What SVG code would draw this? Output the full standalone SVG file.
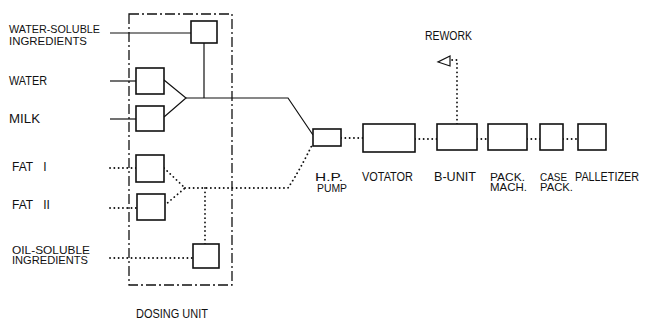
<svg xmlns="http://www.w3.org/2000/svg" width="649" height="320" viewBox="0 0 649 320">
<defs>
<style>
.bg{fill:#fff}
.box{fill:#fff;stroke:#111;stroke-width:1.6}
.ln{fill:none;stroke:#111;stroke-width:1.2}
.dot{fill:none;stroke:#111;stroke-width:1.8;stroke-dasharray:0.1 4.2;stroke-linecap:round}
.frame{fill:none;stroke:#111;stroke-width:1.3;stroke-dasharray:10 3 2 3}
text{font-family:"Liberation Sans",Arial,sans-serif;font-size:12px;fill:#111}
.sm{font-size:11px}
</style>
</defs>
<rect class="bg" x="0" y="0" width="649" height="320"/>
<g id="dosing-unit">
<rect class="frame" x="129" y="14" width="103" height="271"/>
<text x="136" y="318" textLength="72" lengthAdjust="spacingAndGlyphs">DOSING UNIT</text>
</g>
<g id="connectors">
<path class="ln" d="M110,33 H191"/>
<path class="ln" d="M204,43 V98"/>
<path class="ln" d="M110,81 H136"/>
<path class="ln" d="M110,119 H136"/>
<path class="ln" d="M164,80 L186,98 L164,117"/>
<path class="ln" d="M186,98 H288 L313,135"/>
<path class="dot" d="M110,168 H136"/>
<path class="dot" d="M110,208 H137"/>
<path class="dot" d="M164,168 L185,188 L165,205"/>
<path class="dot" d="M185,188 H288 Q300,170 313,143"/>
<path class="dot" d="M205,188 V244"/>
<path class="dot" d="M110,258 H193"/>
<path class="dot" d="M341,138 H363"/>
<path class="dot" d="M415,139 H437"/>
<path class="dot" d="M477,139 H488"/>
<path class="dot" d="M527,139 H540"/>
<path class="dot" d="M563,139 H578"/>
<path class="dot" d="M457,124 V60 H452"/>
<path class="ln" d="M450,56 L438,62 L450,66 Z" stroke-width="0.9"/>
</g>
<g id="water-soluble">
<text class="sm" x="9" y="33" textLength="91" lengthAdjust="spacingAndGlyphs">WATER-SOLUBLE</text>
<text class="sm" x="9" y="45" textLength="78" lengthAdjust="spacingAndGlyphs">INGREDIENTS</text>
<rect class="box" x="191" y="21" width="26" height="22"/>
</g>
<g id="water">
<text x="9" y="85" textLength="38" lengthAdjust="spacingAndGlyphs">WATER</text>
<rect class="box" x="136" y="68" width="28" height="26"/>
</g>
<g id="milk">
<text x="9" y="123" textLength="31" lengthAdjust="spacingAndGlyphs">MILK</text>
<rect class="box" x="136" y="106" width="28" height="25"/>
</g>
<g id="fat1">
<text x="12" y="171" word-spacing="7">FAT I</text>
<rect class="box" x="136" y="155" width="28" height="27"/>
</g>
<g id="fat2">
<text x="12" y="209" word-spacing="7">FAT II</text>
<rect class="box" x="137" y="194" width="28" height="26"/>
</g>
<g id="oil-soluble">
<text class="sm" x="12" y="253.5" textLength="78" lengthAdjust="spacingAndGlyphs">OIL-SOLUBLE</text>
<text class="sm" x="12" y="264" textLength="76" lengthAdjust="spacingAndGlyphs">INGREDIENTS</text>
<rect class="box" x="193" y="244" width="26" height="24"/>
</g>
<g id="hp-pump">
<rect class="box" x="313" y="129" width="28" height="17"/>
<text class="sm" x="315" y="181" textLength="28" lengthAdjust="spacingAndGlyphs">H.P.</text>
<text class="sm" x="317" y="192" textLength="30" lengthAdjust="spacingAndGlyphs">PUMP</text>
</g>
<g id="votator">
<rect class="box" x="363" y="124" width="52" height="28"/>
<text x="362" y="181" textLength="51" lengthAdjust="spacingAndGlyphs">VOTATOR</text>
</g>
<g id="b-unit">
<rect class="box" x="437" y="124" width="40" height="26"/>
<text x="434" y="181" textLength="42" lengthAdjust="spacingAndGlyphs">B-UNIT</text>
</g>
<g id="rework">
<text x="425" y="40" textLength="47" lengthAdjust="spacingAndGlyphs">REWORK</text>
</g>
<g id="pack-mach">
<rect class="box" x="488" y="124" width="39" height="26"/>
<text class="sm" x="490" y="180.5" textLength="35" lengthAdjust="spacingAndGlyphs">PACK.</text>
<text class="sm" x="490" y="191" textLength="37" lengthAdjust="spacingAndGlyphs">MACH.</text>
</g>
<g id="case-pack">
<rect class="box" x="540" y="124" width="23" height="26"/>
<text class="sm" x="540" y="180.5" textLength="27" lengthAdjust="spacingAndGlyphs">CASE</text>
<text class="sm" x="540" y="191" textLength="33" lengthAdjust="spacingAndGlyphs">PACK.</text>
</g>
<g id="palletizer">
<rect class="box" x="578" y="124" width="28" height="26"/>
<text x="575" y="181" textLength="64" lengthAdjust="spacingAndGlyphs">PALLETIZER</text>
</g>
</svg>
